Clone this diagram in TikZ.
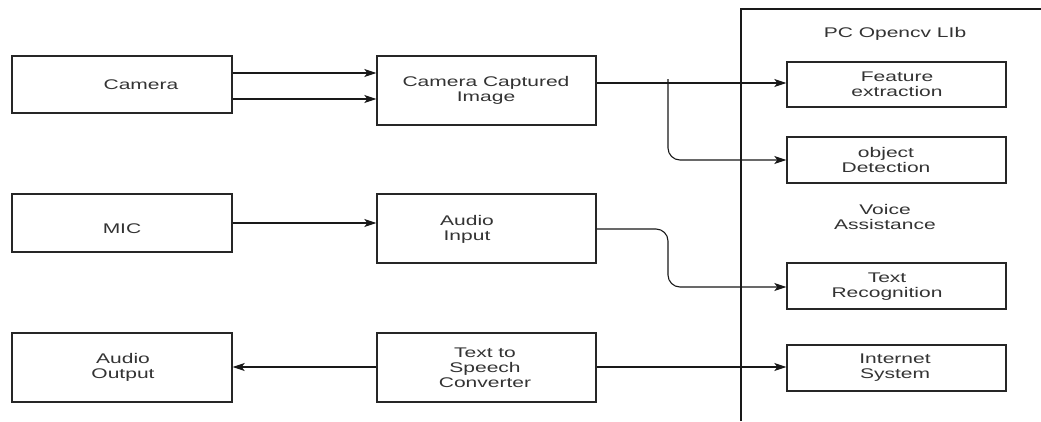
\documentclass[tikz,border=0pt]{standalone}
\usepackage{fontspec}
\setmainfont{Liberation Sans}[FakeStretch=1.5]
\usetikzlibrary{arrows.meta,calc}
\begin{document}
\begin{tikzpicture}[x=1pt,y=-1pt,
  box/.style={draw=black!85,line width=1.4pt,inner sep=0pt},
  txt/.style={align=center,inner sep=0pt,text=black!80,font=\fontsize{14}{15}\selectfont},
  arr/.style={draw=black!90,line width=1.1pt,-{Stealth[length=12pt,width=8pt,inset=3pt]}},
  rc/.style={rounded corners=12pt}]
\useasboundingbox (0,0) rectangle (1041,421);
\fill[white] (0,0) rectangle (1041,421);
% left column
\node[box,minimum width=220pt,minimum height=57pt] (cam) at (122,84.5) {};
\node[txt] (camt) at (141,85) {Camera};
\node[box,minimum width=220pt,minimum height=58pt] (mic) at (122,223) {};
\node[txt] (mict) at (122,229) {MIC};
\node[box,minimum width=220pt,minimum height=69pt] (aout) at (122,367.5) {};
\node[txt] (aoutt) at (123,367.5) {Audio\\Output};
% middle column
\node[box,minimum width=219pt,minimum height=69pt] (cci) at (486.5,90.5) {};
\node[txt] (ccit) at (486,90) {Camera Captured\\Image};
\node[box,minimum width=219pt,minimum height=69pt] (ain) at (486.5,228.5) {};
\node[txt] (aint) at (467,229) {Audio\\Input};
\node[box,minimum width=219pt,minimum height=69pt] (tts) at (486.5,367.5) {};
\node[txt] (ttst) at (485,367.5) {Text to\\Speech\\Converter};
% PC container
\draw[draw=black!90,line width=1.4pt] (741,421) -- (741,9) -- (1045,9);
\node[txt] (pct) at (895,34) {PC Opencv LIb};
\node[txt] (vat) at (885,217) {Voice\\Assistance};
% right column
\node[box,minimum width=219pt,minimum height=45pt] (fe) at (896.5,84.5) {};
\node[txt] (fet) at (897,84.5) {Feature\\extraction};
\node[box,minimum width=219pt,minimum height=46pt] (od) at (896.5,160) {};
\node[txt] (odt) at (886,160) {object\\Detection};
\node[box,minimum width=219pt,minimum height=46pt] (tr) at (896.5,286) {};
\node[txt] (trt) at (887,287) {Text\\Recognition};
\node[box,minimum width=219pt,minimum height=46pt] (is) at (896.5,368) {};
\node[txt] (ist) at (895,367.5) {Internet\\System};
% connectors
\draw[arr] (cam.east |- 0,73) -- (cci.west |- 0,73);
\draw[arr] (cam.east |- 0,99) -- (cci.west |- 0,99);
\draw[arr] (cci.east |- 0,83) -- (fe.west |- 0,83);
\draw[arr,rc] (668,79) -- (668,160) -- (od.west);
\draw[arr] (mic.east |- 0,223) -- (ain.west |- 0,223);
\draw[arr,rc] (ain.east |- 0,229) -- (668,229) -- (668,287) -- (tr.west |- 0,287);
\draw[arr] (tts.west |- 0,367) -- (aout.east |- 0,367);
\draw[arr] (tts.east |- 0,367) -- (is.west |- 0,367);
\end{tikzpicture}
\end{document}
